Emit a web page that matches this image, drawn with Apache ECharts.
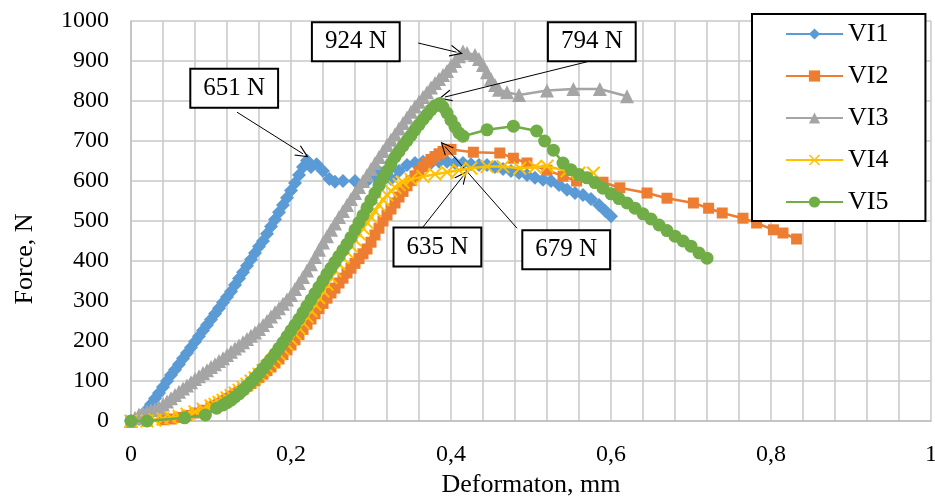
<!DOCTYPE html>
<html>
<head>
<meta charset="utf-8">
<script src="https://cdn.jsdelivr.net/npm/echarts@6/dist/echarts.min.js"></script>
<style>
  html, body { margin: 0; padding: 0; background: #fff; }
  #chart { width: 935px; height: 496px; }
</style>
</head>
<body>
<div id="chart"></div>
<script>
  // series names
  var seriesNames = ['VI1', 'VI2', 'VI3', 'VI4', 'VI5'];

  // [deformation mm, force N]
  var vi1 = [[0, 0], [0.01, 5], [0.015, 15], [0.02, 28], [0.025, 42], [0.03, 56], [0.035, 70], [0.04, 85], [0.045, 100],
    [0.05, 115], [0.055, 128], [0.06, 142], [0.065, 156], [0.07, 170], [0.075, 184], [0.08, 198], [0.085, 212],
    [0.09, 226], [0.095, 240], [0.1, 254], [0.105, 268], [0.11, 282], [0.115, 296], [0.12, 310], [0.125, 324],
    [0.13, 340], [0.135, 356], [0.14, 372], [0.145, 388], [0.15, 404], [0.155, 420], [0.16, 436], [0.165, 450],
    [0.17, 468], [0.175, 486], [0.18, 504], [0.185, 522], [0.19, 540], [0.195, 558], [0.2, 576], [0.205, 595],
    [0.21, 615], [0.215, 635], [0.22, 651], [0.225, 635], [0.232, 642], [0.24, 625], [0.248, 605], [0.255, 598],
    [0.265, 600], [0.28, 600], [0.295, 600], [0.305, 612], [0.311, 622], [0.318, 608], [0.325, 605], [0.335, 625],
    [0.345, 640], [0.355, 645], [0.365, 648], [0.375, 645], [0.385, 648], [0.395, 648], [0.405, 645], [0.415, 645],
    [0.425, 642], [0.435, 640], [0.445, 640], [0.455, 635], [0.465, 630], [0.475, 625], [0.485, 620], [0.495, 615],
    [0.505, 608], [0.515, 603], [0.525, 600], [0.535, 590], [0.545, 578], [0.555, 570], [0.565, 565], [0.575, 555],
    [0.585, 540], [0.593, 525], [0.6, 512]];

  var vi2 = [[0, 0], [0.02, 0], [0.04, 3], [0.05, 5], [0.06, 9], [0.07, 14], [0.08, 20], [0.09, 27], [0.1, 35],
    [0.105, 39], [0.11, 44], [0.115, 50], [0.12, 56], [0.125, 62], [0.13, 68], [0.135, 74], [0.14, 80], [0.145, 87],
    [0.15, 94], [0.155, 101], [0.16, 109], [0.165, 117], [0.17, 126], [0.175, 135], [0.18, 145], [0.185, 155],
    [0.19, 166], [0.195, 178], [0.2, 190], [0.205, 203], [0.21, 216], [0.215, 229], [0.22, 242], [0.225, 255],
    [0.23, 268], [0.235, 281], [0.24, 294], [0.245, 307], [0.25, 320], [0.255, 332], [0.26, 345], [0.265, 357],
    [0.27, 370], [0.275, 382], [0.28, 394], [0.285, 406], [0.29, 418], [0.295, 430], [0.3, 447], [0.305, 465],
    [0.31, 482], [0.315, 500], [0.32, 515], [0.325, 530], [0.33, 545], [0.335, 560], [0.34, 574], [0.345, 588],
    [0.35, 601], [0.355, 613], [0.36, 624], [0.365, 636], [0.37, 646], [0.375, 654], [0.38, 661], [0.385, 668],
    [0.39, 674], [0.395, 679], [0.4, 679], [0.428, 672], [0.461, 670], [0.478, 657], [0.495, 645], [0.52, 627],
    [0.54, 612], [0.557, 600], [0.59, 597], [0.611, 583], [0.645, 570], [0.67, 557], [0.703, 545], [0.722, 532],
    [0.739, 520], [0.765, 507], [0.782, 495], [0.803, 478], [0.815, 470], [0.832, 455]];

  var vi3 = [[0, 0], [0.005, 8], [0.01, 16], [0.015, 20], [0.02, 24], [0.025, 27], [0.03, 30], [0.035, 34], [0.04, 41],
    [0.045, 49], [0.05, 57], [0.055, 65], [0.06, 73], [0.065, 81], [0.07, 89], [0.075, 97], [0.08, 105], [0.085, 112],
    [0.09, 120], [0.095, 127], [0.1, 135], [0.105, 142], [0.11, 150], [0.115, 157], [0.12, 165], [0.125, 173],
    [0.13, 181], [0.135, 189], [0.14, 197], [0.145, 205], [0.15, 213], [0.155, 221], [0.16, 230], [0.165, 240],
    [0.17, 250], [0.175, 261], [0.18, 272], [0.185, 282], [0.19, 293], [0.195, 304], [0.2, 315], [0.205, 330],
    [0.21, 345], [0.215, 360], [0.22, 376], [0.225, 392], [0.23, 410], [0.235, 428], [0.24, 446], [0.245, 462],
    [0.25, 478], [0.255, 494], [0.26, 510], [0.265, 525], [0.27, 540], [0.275, 555], [0.28, 570], [0.285, 585],
    [0.29, 600], [0.295, 615], [0.3, 630], [0.305, 645], [0.31, 660], [0.315, 675], [0.32, 690], [0.325, 703],
    [0.33, 717], [0.335, 731], [0.34, 745], [0.345, 759], [0.35, 773], [0.355, 786], [0.36, 798], [0.365, 810],
    [0.37, 822], [0.375, 834], [0.38, 845], [0.385, 855], [0.39, 865], [0.395, 875], [0.4, 888], [0.405, 900],
    [0.41, 912], [0.415, 924], [0.42, 920], [0.43, 915], [0.435, 905], [0.44, 890], [0.445, 872], [0.45, 855],
    [0.455, 840], [0.46, 828], [0.47, 822], [0.485, 815], [0.52, 826], [0.553, 830], [0.586, 830], [0.62, 812]];

  var vi4 = [[0, 0], [0.02, 0], [0.03, 2], [0.04, 5], [0.05, 8], [0.06, 12], [0.07, 17], [0.08, 23], [0.09, 30],
    [0.1, 38], [0.105, 42], [0.11, 47], [0.115, 52], [0.12, 58], [0.125, 64], [0.13, 70], [0.135, 77], [0.14, 84],
    [0.145, 92], [0.15, 100], [0.155, 108], [0.16, 117], [0.165, 126], [0.17, 136], [0.175, 146], [0.18, 157],
    [0.185, 168], [0.19, 180], [0.195, 192], [0.2, 205], [0.205, 218], [0.21, 232], [0.215, 246], [0.22, 261],
    [0.225, 276], [0.23, 292], [0.235, 308], [0.24, 325], [0.245, 342], [0.25, 359], [0.255, 376], [0.26, 393],
    [0.265, 408], [0.27, 423], [0.275, 438], [0.28, 453], [0.285, 468], [0.29, 482], [0.295, 496], [0.3, 510],
    [0.305, 525], [0.31, 540], [0.315, 553], [0.32, 565], [0.325, 575], [0.33, 584], [0.335, 591], [0.34, 597],
    [0.35, 604], [0.365, 611], [0.38, 617], [0.395, 622], [0.41, 627], [0.425, 632], [0.445, 636], [0.465, 636],
    [0.486, 632], [0.505, 635], [0.52, 637], [0.545, 625], [0.56, 620], [0.578, 620]];

  var vi5 = [[0, 0], [0.02, 0], [0.067, 8], [0.093, 15], [0.107, 32], [0.115, 40], [0.12, 46], [0.125, 52], [0.13, 60],
    [0.135, 68], [0.14, 77], [0.145, 87], [0.15, 97], [0.155, 108], [0.16, 119], [0.165, 131], [0.17, 143],
    [0.175, 155], [0.18, 168], [0.185, 182], [0.19, 196], [0.195, 211], [0.2, 226], [0.205, 240], [0.21, 255],
    [0.215, 271], [0.22, 287], [0.225, 303], [0.23, 319], [0.235, 335], [0.24, 351], [0.245, 367], [0.25, 382],
    [0.255, 397], [0.26, 412], [0.265, 427], [0.27, 442], [0.275, 459], [0.28, 478], [0.285, 496], [0.29, 514],
    [0.295, 533], [0.3, 552], [0.305, 570], [0.31, 589], [0.315, 607], [0.32, 625], [0.325, 643], [0.33, 660],
    [0.335, 674], [0.34, 688], [0.345, 701], [0.35, 714], [0.355, 728], [0.36, 741], [0.365, 754], [0.37, 766],
    [0.375, 778], [0.38, 788], [0.386, 794], [0.39, 785], [0.395, 770], [0.4, 752], [0.405, 735], [0.41, 720],
    [0.415, 712], [0.445, 728], [0.478, 737], [0.507, 725], [0.517, 700], [0.528, 677], [0.54, 645], [0.55, 628],
    [0.56, 616], [0.57, 608], [0.58, 596], [0.59, 582], [0.6, 568], [0.61, 556], [0.62, 545], [0.63, 532],
    [0.64, 518], [0.65, 505], [0.66, 490], [0.67, 476], [0.68, 462], [0.69, 450], [0.7, 437], [0.71, 420],
    [0.72, 407]];

  // peak call-outs: text, box position, arrow start, arrow tip (data units)
  var noteText = ['651 N', '924 N', '794 N', '635 N', '679 N'];
  var noteBox = [[0.129, 832], [0.281, 948], [0.576, 948], [0.383, 435], [0.544, 428]];
  var noteFrom = [[0.1325, 772], [0.359, 945], [0.57, 898], [0.365, 485], [0.4825, 482]];
  var noteTo = [[0.215, 668], [0.407, 922], [0.3925, 810], [0.415, 612], [0.3925, 686]];

  var colors = ['#5B9BD5', '#ED7D31', '#A5A5A5', '#FFC000', '#70AD47'];
  var FONT = '"Liberation Serif", "Times New Roman", serif';
  var crossPath = 'path://M0,1L1,0L5,4L9,0L10,1L6,5L10,9L9,10L5,6L1,10L0,9L4,5Z';
  var arrowPath = 'path://M0,10L5,0L10,10L9,10L5,2L1,10Z';

  var chart = echarts.init(document.getElementById('chart'));

  function commaNum(v) {
    return String(v).replace('.', ',');
  }

  function makeSeries(name, data, symbol, size, idx) {
    return {
      name: name,
      type: 'line',
      data: data,
      symbol: symbol,
      symbolSize: size,
      showAllSymbol: true,
      color: colors[idx],
      lineStyle: { width: 2.5, color: colors[idx] },
      itemStyle: { color: colors[idx] },
      z: 2 + idx
    };
  }

  var series = [
    makeSeries(seriesNames[0], vi1, 'diamond', 14, 0),
    makeSeries(seriesNames[1], vi2, 'rect', 11, 1),
    makeSeries(seriesNames[2], vi3, 'triangle', 14, 2),
    makeSeries(seriesNames[3], vi4, crossPath, 14, 3),
    makeSeries(seriesNames[4], vi5, 'circle', 13, 4)
  ];

  // arrows + boxed labels on top of everything
  series[4].markLine = {
    silent: true,
    animation: false,
    symbol: ['none', arrowPath],
    symbolSize: [12, 13],
    lineStyle: { color: '#000', width: 1, type: 'solid' },
    label: { show: false },
    data: noteFrom.map(function (p, i) {
      return [{ coord: p }, { coord: noteTo[i] }];
    })
  };
  series[4].markPoint = {
    silent: true,
    animation: false,
    symbol: 'rect',
    symbolSize: 0,
    label: {
      show: true,
      position: 'inside',
      color: '#000',
      fontFamily: FONT,
      fontSize: 25,
      backgroundColor: '#fff',
      borderColor: '#000',
      borderWidth: 2,
      padding: [7, 12, 5, 12],
      formatter: function (p) { return p.name; }
    },
    data: noteBox.map(function (p, i) {
      return { name: noteText[i], coord: p };
    })
  };

  var option = {
    animation: false,
    backgroundColor: '#fff',
    textStyle: { fontFamily: FONT },
    grid: { left: 131, top: 21, width: 800, height: 400, outerBoundsMode: 'none', containLabel: false },
    legend: {
      orient: 'vertical',
      left: 752,
      top: 14,
      data: seriesNames,
      itemWidth: 57,
      itemHeight: 14,
      itemGap: 16,
      padding: [7, 37, 6, 33],
      borderColor: '#000',
      borderWidth: 2,
      backgroundColor: '#fff',
      textStyle: { fontFamily: FONT, fontSize: 26, color: '#000' }
    },
    xAxis: {
      type: 'value',
      min: 0,
      max: 1,
      interval: 0.2,
      name: 'Deformaton, mm',
      nameLocation: 'middle',
      nameGap: 39,
      nameTextStyle: { fontFamily: FONT, fontSize: 26, color: '#000' },
      axisLine: { show: true, lineStyle: { color: '#bfbfbf', width: 1.5 } },
      axisTick: { show: false },
      axisLabel: { fontFamily: FONT, fontSize: 24, color: '#000', margin: 22, formatter: commaNum },
      splitLine: { show: true, lineStyle: { color: '#c8c8c8', width: 1.5 } },
      minorTick: { show: false, splitNumber: 5 },
      minorSplitLine: { show: true, lineStyle: { color: '#c8c8c8', width: 1.5 } }
    },
    yAxis: {
      type: 'value',
      min: 0,
      max: 1000,
      interval: 100,
      name: 'Force, N',
      nameLocation: 'middle',
      nameGap: 93,
      nameTextStyle: { fontFamily: FONT, fontSize: 26, color: '#000', padding: [0, 76, 0, 0] },
      axisLine: { show: true, lineStyle: { color: '#bfbfbf', width: 1.5 } },
      axisTick: { show: false },
      axisLabel: { fontFamily: FONT, fontSize: 24, color: '#000', margin: 22, formatter: function (v) { return String(v); } },
      splitLine: { show: true, lineStyle: { color: '#c8c8c8', width: 1.5 } }
    },
    series: series
  };

  chart.setOption(option);

  window.addEventListener('resize', function () {
    chart.resize();
  });
</script>
</body>
</html>
